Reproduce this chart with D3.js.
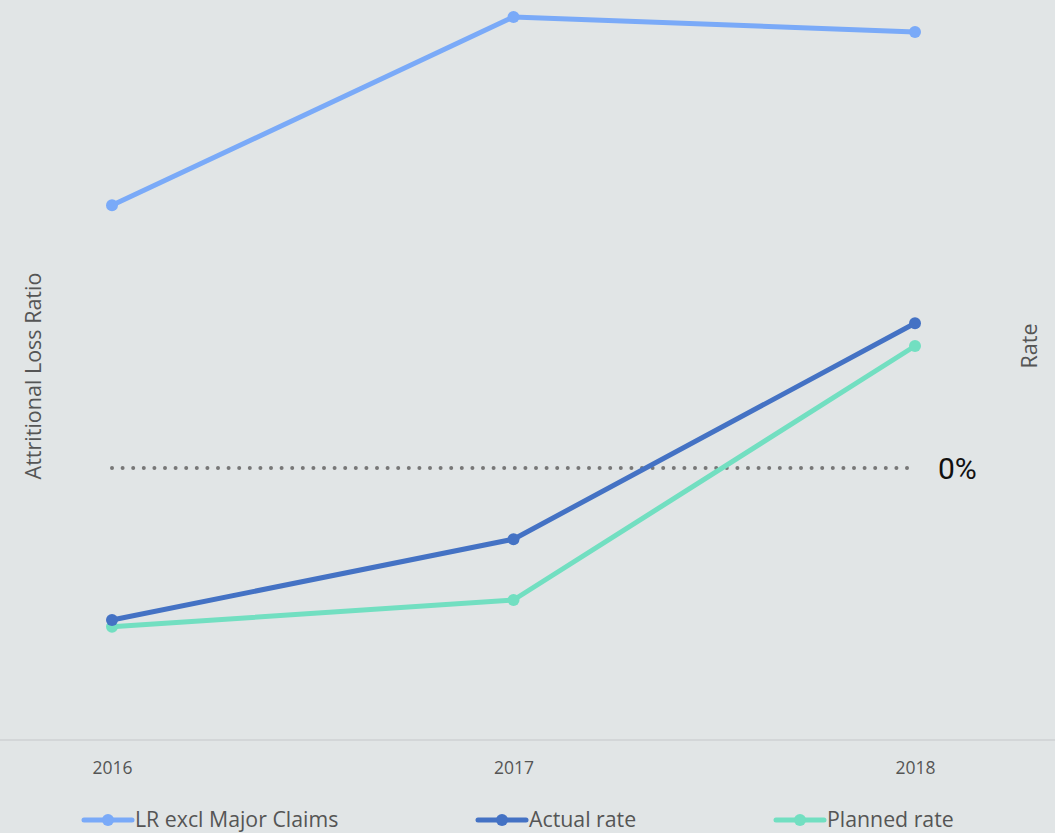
<!DOCTYPE html>
<html><head><meta charset="utf-8">
<script src="https://cdn.jsdelivr.net/npm/d3@7"></script>
<style>
html,body{margin:0;padding:0;background:#e1e5e6;}
svg{display:block;}
</style></head>
<body>
<svg id="chart" width="1055" height="833"></svg>
<script>
const years = ["2016", "2017", "2018"];
const lrExclMajor = [60.0, 65.0, 64.6];     // Attritional Loss Ratio (%)
const actualRate = [-3.8, -1.78, 3.62];     // Rate (%)
const plannedRate = [-3.97, -3.3, 3.05];    // Rate (%)
const seriesNames = ["LR excl Major Claims", "Actual rate", "Planned rate"];
const seriesColors = ["#7aaaf8", "#4472c4", "#72dfc1"];

const svg = d3.select("#chart");
const W = 1055, H = 833;
const font = "'Open Sans', sans-serif";

svg.append("rect").attr("width", W).attr("height", H).attr("fill", "#e1e5e6");

const x = d3.scalePoint().domain(years).range([112, 915]);
const yLeft = d3.scaleLinear().domain([45.8, 65.45]).range([740, 0]);
const yRight = d3.scaleLinear().domain([-6.8, 11.7]).range([740, 0]);

// x axis baseline
svg.append("line").attr("x1", 0).attr("x2", W).attr("y1", 740).attr("y2", 740)
  .attr("stroke", "#d3d6d8").attr("stroke-width", 2);

const xAxis = d3.axisBottom(x).tickSize(0).tickPadding(0);
const gx = svg.append("g").attr("transform", "translate(0,768)").call(xAxis);
gx.select(".domain").remove();
gx.selectAll("text").attr("font-family", font).attr("font-size", 17.5).attr("fill", "#555")
  .attr("dy", "0.35em").attr("y", 0);

// zero line
svg.append("line")
  .attr("x1", x("2016")).attr("x2", x("2018"))
  .attr("y1", yRight(0)).attr("y2", yRight(0))
  .attr("stroke", "#777").attr("stroke-width", 4)
  .attr("stroke-linecap", "round").attr("stroke-dasharray", "0 10.6");
svg.append("text").attr("x", 938).attr("y", yRight(0)).attr("dy", "0.35em")
  .attr("font-family", "Roboto, sans-serif").attr("font-size", 30).attr("fill", "#111")
  .text("0%");

// axis titles
svg.append("text").attr("transform", `translate(41,${376}) rotate(-90)`)
  .attr("text-anchor", "middle").attr("font-family", font).attr("font-size", 21.5)
  .attr("fill", "#555").text("Attritional Loss Ratio");
svg.append("text").attr("transform", `translate(1037,${346}) rotate(-90)`)
  .attr("text-anchor", "middle").attr("font-family", font).attr("font-size", 21.5)
  .attr("fill", "#555").text("Rate");

const series = [
  {vals: lrExclMajor, y: yLeft, color: seriesColors[0]},
  {vals: plannedRate, y: yRight, color: seriesColors[2]},
  {vals: actualRate, y: yRight, color: seriesColors[1]}
];
series.forEach(s => {
  const line = d3.line().x((d, i) => x(years[i])).y(d => s.y(d));
  svg.append("path").datum(s.vals).attr("d", line).attr("fill", "none")
    .attr("stroke", s.color).attr("stroke-width", 5).attr("stroke-linejoin", "round");
  svg.selectAll(null).data(s.vals).enter().append("circle")
    .attr("cx", (d, i) => x(years[i])).attr("cy", d => s.y(d)).attr("r", 6)
    .attr("fill", s.color);
});

// legend
const legX = [84, 478, 776];
const legY = 820;
seriesNames.forEach((name, i) => {
  const g = svg.append("g").attr("transform", `translate(${legX[i]},${legY})`);
  g.append("line").attr("x1", 0).attr("x2", 48).attr("y1", 0).attr("y2", 0)
    .attr("stroke", seriesColors[i]).attr("stroke-width", 5).attr("stroke-linecap", "round");
  g.append("circle").attr("cx", 24).attr("cy", 0).attr("r", 6).attr("fill", seriesColors[i]);
  g.append("text").attr("x", 51).attr("y", 0).attr("dy", "0.35em")
    .attr("font-family", font).attr("font-size", 21.3).attr("fill", "#555").text(name);
});
</script>
</body></html>
